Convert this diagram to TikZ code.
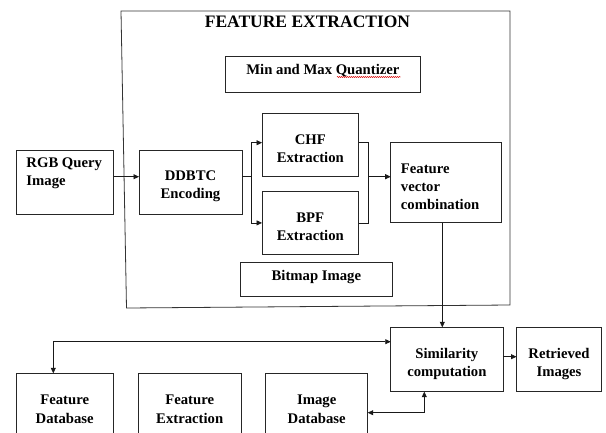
\documentclass[tikz,border=0pt]{standalone}
\usepackage{fontspec}
\setmainfont{Liberation Serif}
\usetikzlibrary{arrows.meta,decorations.pathmorphing}
\begin{document}
\begin{tikzpicture}[x=1pt,y=-1pt,
  box/.style={draw=black!85, line width=0.8pt, outer sep=0pt, inner sep=0pt},
  lbl/.style={font=\fontsize{14.7}{18.3}\selectfont\bfseries, align=center, inner sep=0pt},
  link/.style={draw=black!90, line width=0.8pt},
  arr/.style={link, -{Triangle[length=5.5pt,width=5pt]}},
  arr2/.style={link, {Triangle[length=5.5pt,width=5pt]}-{Triangle[length=5.5pt,width=5pt]}}
]
\useasboundingbox (0,0) rectangle (606,432);
\clip (0,0) rectangle (606,432);

% feature extraction frame and its title
\draw[black!80, line width=0.8pt] (121,11) -- (510,11) -- (510,305) -- (126.5,308) -- cycle;
\node[font=\fontsize{17.5}{21}\selectfont\bfseries, anchor=base, inner sep=0pt] (title) at (307.5,27.8) {FEATURE EXTRACTION};

% blocks
\node[box, minimum width=97.5pt, minimum height=64pt,
  label={[lbl, align=left, anchor=north west, xshift=10pt, yshift=-7.2pt]north west:RGB Query\\Image}] (rgb) at (65,182) {};
\node[box, minimum width=103pt, minimum height=64pt,
  label={[lbl, yshift=-4.3pt]center:DDBTC\\Encoding}] (ddbtc) at (190.5,182) {};
\node[box, minimum width=96.5pt, minimum height=63.7pt,
  label={[lbl, yshift=-3.8pt]center:CHF\\Extraction}] (chf) at (310.3,144.9) {};
\node[box, minimum width=96.5pt, minimum height=62.3pt,
  label={[lbl, yshift=-4.1pt]center:BPF\\Extraction}] (bpf) at (310.3,222.9) {};
\node[box, minimum width=111pt, minimum height=80pt,
  label={[lbl, align=left, anchor=north west, xshift=10pt, yshift=-20.8pt]north west:Feature\\vector\\combination}] (fv) at (446.2,182.7) {};
\node[box, minimum width=194.3pt, minimum height=35.6pt,
  label={[lbl, yshift=3.75pt]center:Min and Max Quantizer}] (minmax) at (322.9,74.5) {};
\node[box, minimum width=151.3pt, minimum height=33.3pt,
  label={[lbl, yshift=2.6pt]center:Bitmap Image}] (bitmap) at (316.4,279.4) {};
\node[box, minimum width=112.3pt, minimum height=64.4pt,
  label={[lbl, yshift=-4.6pt]center:Similarity\\computation}] (sim) at (446.9,359.5) {};
\node[box, minimum width=85pt, minimum height=64.4pt,
  label={[lbl, yshift=-4.6pt]center:Retrieved\\Images}] (ret) at (559,359.5) {};
\node[box, minimum width=97.3pt, minimum height=64pt,
  label={[lbl, yshift=-4.1pt]center:Feature\\Database}] (fdb) at (64.7,405.3) {};
\node[box, minimum width=102.7pt, minimum height=64pt,
  label={[lbl, yshift=-4.1pt]center:Feature\\Extraction}] (fex) at (189.7,405.3) {};
\node[box, minimum width=102pt, minimum height=64pt,
  label={[lbl, yshift=-4.1pt]center:Image\\Database}] (idb) at (316.7,405.3) {};

% spell-check squiggle under the last word of the quantizer label
\draw[red!85!black, line width=0.4pt, decorate, decoration={snake, amplitude=0.6pt, segment length=2pt}]
  ([xshift=14pt,yshift=-2.5pt]minmax.center) -- ([xshift=78pt,yshift=-2.5pt]minmax.center);

% branch and merge points
\coordinate (split) at (251,176.7);
\coordinate (merge) at (368,176.7);

% connectors
\draw[arr] ([yshift=5.3pt]rgb.east) -- ([yshift=5.3pt]ddbtc.west);
\draw[link] ([yshift=5.3pt]ddbtc.east) -- (split);
\draw[arr] (split) |- ([yshift=2.2pt]chf.west);
\draw[arr] (split) |- (bpf.west);
\draw[link] ([yshift=2.2pt]chf.east) -| (merge);
\draw[link] (bpf.east) -| (merge);
\draw[arr] (merge) -- (merge -| fv.west);
\draw[arr] ([xshift=-3.9pt]fv.south) -- ([xshift=-3.9pt]fv.south |- sim.north);
\draw[arr2] ([yshift=17.8pt]sim.west) -| ([xshift=-11.4pt]fdb.north);
\draw[arr] ([yshift=2.8pt]sim.east) -- ([yshift=2.8pt]ret.west);
\draw[arr2] ([yshift=-7.4pt]idb.east) -| ([xshift=-22.6pt]sim.south);
\end{tikzpicture}
\end{document}
